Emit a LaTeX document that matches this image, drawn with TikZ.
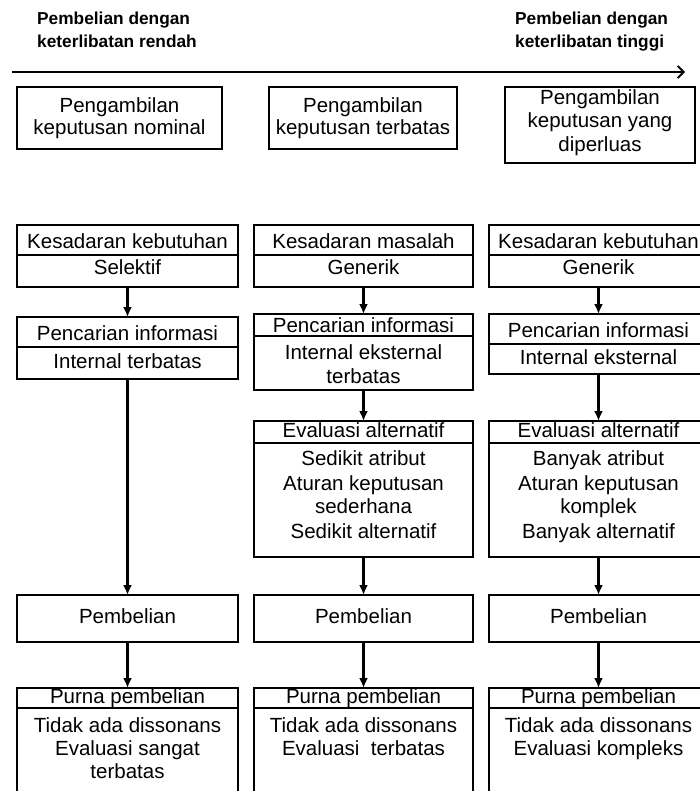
\documentclass[tikz,border=0pt]{standalone}
\usepackage{fontspec}
\setmainfont{Liberation Sans}
\usetikzlibrary{arrows.meta}

% rectangle node given by its corners (x1,y1) (x2,y2), y pointing down
\newcommand\flowbox[5]{%
  \pgfmathsetmacro\fbw{#4-#2}%
  \pgfmathsetmacro\fbh{#5-#3}%
  \node[frame,minimum width=\fbw pt,minimum height=\fbh pt] (#1) at ({(#2+#4)/2},{(#3+#5)/2}) {};}
% horizontal rule across a box at height y
\newcommand\divider[2]{\draw[rule] (#1.west |- 0,#2) -- (#1.east |- 0,#2);}
% one line of centred text, placed on its baseline
\newcommand\putline[3]{\node[txt] (#1) at (#2) {#3};}

\begin{document}
\begin{tikzpicture}[x=1pt,y=-1pt,
  frame/.style={draw=black,line width=2.4pt,inner sep=0pt,outer sep=0pt},
  rule/.style={draw=black,line width=2.2pt},
  txt/.style={inner sep=0pt,anchor=base,font=\fontsize{20.5}{24}\selectfont},
  lbl/.style={inner sep=0pt,anchor=base west,font=\bfseries\fontsize{17.3}{23}\selectfont},
  flow/.style={draw=black,line width=2.4pt,-{Latex[length=10pt,width=9pt]}},
  axis/.style={draw=black,line width=1.8pt,-{Straight Barb[length=6pt,width=12pt,line width=1.8pt]}}]

\useasboundingbox (0,0) rectangle (700,791);
\fill[white] (0,0) rectangle (700,791);
\clip (0,0) rectangle (700,791);

% involvement axis
\node[lbl] (lowA) at (37,25) {Pembelian dengan};
\node[lbl] (lowB) at (37,48) {keterlibatan rendah};
\node[lbl] (highA) at (515,25) {Pembelian dengan};
\node[lbl] (highB) at (515,48) {keterlibatan tinggi};
\coordinate (axL) at (12,72);
\coordinate (axR) at (685,72);
\draw[axis] (axL) -- (axR);

% decision types
\flowbox{t1}{17}{87}{222}{149}
\putline{t1a}{119.5,113}{Pengambilan}
\putline{t1b}{119.5,135}{keputusan nominal}
\flowbox{t2}{269}{87}{457}{149}
\putline{t2a}{363,113}{Pengambilan}
\putline{t2b}{363,135}{keputusan terbatas}
\flowbox{t3}{505}{87}{695}{163}
\putline{t3a}{600,105}{Pengambilan}
\putline{t3b}{600,128}{keputusan yang}
\putline{t3c}{600,152}{diperluas}

% problem recognition
\flowbox{k1}{17}{225}{238}{287}\divider{k1}{255}
\putline{k1a}{127.5,248}{Kesadaran kebutuhan}
\putline{k1b}{127.5,274}{Selektif}
\flowbox{k2}{254}{225}{473}{287}\divider{k2}{255}
\putline{k2a}{363.5,248}{Kesadaran masalah}
\putline{k2b}{363.5,274}{Generik}
\flowbox{k3}{489}{225}{708}{287}\divider{k3}{255}
\putline{k3a}{598.5,248}{Kesadaran kebutuhan}
\putline{k3b}{598.5,274}{Generik}

% information search
\flowbox{p1}{17}{317}{238}{379}\divider{p1}{347}
\putline{p1a}{127.5,340}{Pencarian informasi}
\putline{p1b}{127.5,368}{Internal terbatas}
\flowbox{p2}{254}{314}{473}{390}\divider{p2}{336}
\putline{p2a}{363.5,332}{Pencarian informasi}
\putline{p2b}{363.5,359}{Internal eksternal}
\putline{p2c}{363.5,383}{terbatas}
\flowbox{p3}{489}{314}{708}{374}\divider{p3}{344}
\putline{p3a}{598.5,337}{Pencarian informasi}
\putline{p3b}{598.5,364}{Internal eksternal}

% evaluation of alternatives
\flowbox{e2}{254}{421}{473}{557}\divider{e2}{443}
\putline{e2a}{363.5,437}{Evaluasi alternatif}
\putline{e2b}{363.5,465}{Sedikit atribut}
\putline{e2c}{363.5,490}{Aturan keputusan}
\putline{e2d}{363.5,513}{sederhana}
\putline{e2e}{363.5,538}{Sedikit alternatif}
\flowbox{e3}{489}{421}{708}{557}\divider{e3}{443}
\putline{e3a}{598.5,437}{Evaluasi alternatif}
\putline{e3b}{598.5,465}{Banyak atribut}
\putline{e3c}{598.5,490}{Aturan keputusan}
\putline{e3d}{598.5,513}{komplek}
\putline{e3e}{598.5,538}{Banyak alternatif}

% purchase
\flowbox{b1}{17}{595}{238}{642}
\putline{b1a}{127.5,623}{Pembelian}
\flowbox{b2}{254}{595}{473}{642}
\putline{b2a}{363.5,623}{Pembelian}
\flowbox{b3}{489}{595}{708}{642}
\putline{b3a}{598.5,623}{Pembelian}

% post-purchase
\flowbox{r1}{17}{688}{238}{810}\divider{r1}{708}
\putline{r1a}{127.5,703}{Purna pembelian}
\putline{r1b}{127.5,732}{Tidak ada dissonans}
\putline{r1c}{127.5,755}{Evaluasi sangat}
\putline{r1d}{127.5,778}{terbatas}
\flowbox{r2}{254}{688}{473}{810}\divider{r2}{708}
\putline{r2a}{363.5,703}{Purna pembelian}
\putline{r2b}{363.5,732}{Tidak ada dissonans}
\putline{r2c}{363.5,755}{Evaluasi\ \ terbatas}
\flowbox{r3}{489}{688}{708}{810}\divider{r3}{708}
\putline{r3a}{598.5,703}{Purna pembelian}
\putline{r3b}{598.5,732}{Tidak ada dissonans}
\putline{r3c}{598.5,755}{Evaluasi kompleks}

% process flow
\draw[flow] (k1.south) -- (p1.north);
\draw[flow] (p1.south) -- (b1.north);
\draw[flow] (b1.south) -- (r1.north);
\draw[flow] (k2.south) -- (p2.north);
\draw[flow] (p2.south) -- (e2.north);
\draw[flow] (e2.south) -- (b2.north);
\draw[flow] (b2.south) -- (r2.north);
\draw[flow] (k3.south) -- (p3.north);
\draw[flow] (p3.south) -- (e3.north);
\draw[flow] (e3.south) -- (b3.north);
\draw[flow] (b3.south) -- (r3.north);
\end{tikzpicture}
\end{document}
